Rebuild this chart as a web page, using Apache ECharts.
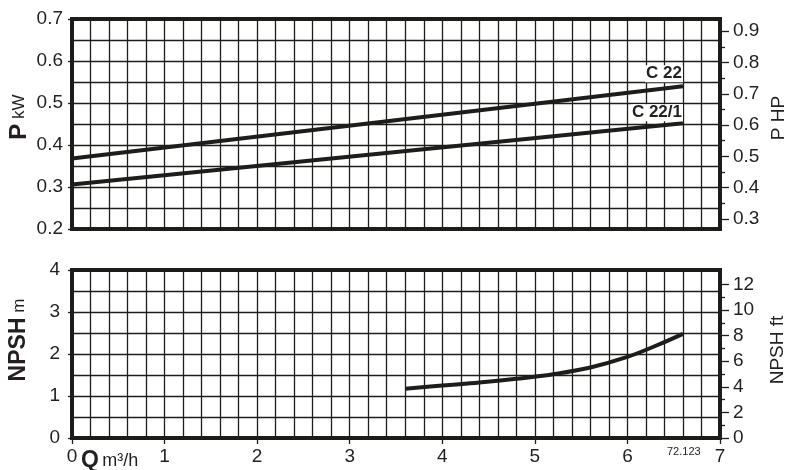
<!DOCTYPE html>
<html>
<head>
<meta charset="utf-8">
<script src="https://cdn.jsdelivr.net/npm/echarts@6/dist/echarts.min.js"></script>
<style>html,body{margin:0;padding:0;background:#fff;}#c{width:791px;height:470px;}</style>
</head>
<body>
<div id="c"></div>
<script>
// ---- data ----
const c22Q = [0, 6.6];
const c22P = [0.368, 0.540];
const c221Q = [0, 6.6];
const c221P = [0.306, 0.452];
const npshQ = [3.6, 4.0, 4.4, 4.8, 5.2, 5.6, 6.0, 6.3, 6.6];
const npshM = [1.17, 1.25, 1.32, 1.41, 1.52, 1.68, 1.93, 2.19, 2.48];
const hpLabels = [0.3, 0.4, 0.5, 0.6, 0.7, 0.8, 0.9];
const hpMinor = [0.35, 0.45, 0.55, 0.65, 0.75, 0.85];
const ftLabels = [0, 2, 4, 6, 8, 10, 12];
const ftMinor = [1, 3, 5, 7, 9, 11];
const KW_TO_HP = 1.34102;
const M_TO_FT = 3.28084;

const INK = '#1d1d1b';
const TXT = '#231f20';
const FONT = '"Liberation Sans", Arial, Helvetica, sans-serif';

function withEndLabel(qs, vs, text, dist) {
  return qs.map((q, i) => {
    const item = { value: [q, vs[i]] };
    if (i === qs.length - 1) {
      item.label = {
        show: true, formatter: text, position: 'top', align: 'right',
        distance: dist, color: TXT, fontFamily: FONT, fontWeight: 'bold', fontSize: 17,
        backgroundColor: '#fff', padding: [0, 1, 0, 1]
      };
    }
    return item;
  });
}

const gridLine = { show: true, lineStyle: { color: INK, width: 1.3 } };

function xAx(grid, showLabels) {
  return {
    type: 'value', gridIndex: grid, min: 0, max: 7, interval: 1,
    axisLine: { show: false },
    axisTick: { show: showLabels, length: 6, lineStyle: { color: INK, width: 1.3 } },
    axisLabel: { show: showLabels, color: TXT, fontFamily: FONT, fontSize: 19, margin: 9 },
    splitLine: gridLine,
    minorTick: { show: false, splitNumber: 5 },
    minorSplitLine: gridLine
  };
}

const option = {
  animation: false,
  backgroundColor: '#fff',
  grid: [
    { left: 72, top: 19, width: 648, height: 210, show: true, borderWidth: 4, borderColor: INK, backgroundColor: 'transparent' },
    { left: 72, top: 270, width: 648, height: 168, show: true, borderWidth: 4, borderColor: INK, backgroundColor: 'transparent' }
  ],
  xAxis: [xAx(0, false), xAx(1, true)],
  yAxis: [
    { // 0: kW
      type: 'value', gridIndex: 0, position: 'left', min: 0.2, max: 0.7, interval: 0.1,
      axisLine: { show: false },
      axisTick: { show: true, length: 4, lineStyle: { color: INK, width: 1.3 } },
      axisLabel: { color: TXT, fontFamily: FONT, fontSize: 19, margin: 9, formatter: v => v.toFixed(1) },
      splitLine: gridLine, minorTick: { show: false, splitNumber: 2 }, minorSplitLine: gridLine
    },
    { // 1: HP major
      type: 'value', gridIndex: 0, position: 'right', min: 0.2 * KW_TO_HP, max: 0.7 * KW_TO_HP,
      axisLine: { show: false }, splitLine: { show: false },
      axisTick: { show: true, length: 9, customValues: hpLabels, lineStyle: { color: INK, width: 1.3 } },
      axisLabel: { color: TXT, fontFamily: FONT, fontSize: 19, margin: 13, customValues: hpLabels, formatter: v => v.toFixed(1) }
    },
    { // 2: HP minor
      type: 'value', gridIndex: 0, position: 'right', min: 0.2 * KW_TO_HP, max: 0.7 * KW_TO_HP,
      axisLine: { show: false }, splitLine: { show: false },
      axisTick: { show: true, length: 5, customValues: hpMinor, lineStyle: { color: INK, width: 1.3 } },
      axisLabel: { show: false }
    },
    { // 3: m
      type: 'value', gridIndex: 1, position: 'left', min: 0, max: 4, interval: 1,
      axisLine: { show: false },
      axisTick: { show: true, length: 4, lineStyle: { color: INK, width: 1.3 } },
      axisLabel: { color: TXT, fontFamily: FONT, fontSize: 19, margin: 12 },
      splitLine: gridLine, minorTick: { show: false, splitNumber: 2 }, minorSplitLine: gridLine
    },
    { // 4: ft major
      type: 'value', gridIndex: 1, position: 'right', min: 0, max: 4 * M_TO_FT,
      axisLine: { show: false }, splitLine: { show: false },
      axisTick: { show: true, length: 9, customValues: ftLabels, lineStyle: { color: INK, width: 1.3 } },
      axisLabel: { color: TXT, fontFamily: FONT, fontSize: 19, margin: 13, customValues: ftLabels }
    },
    { // 5: ft minor
      type: 'value', gridIndex: 1, position: 'right', min: 0, max: 4 * M_TO_FT,
      axisLine: { show: false }, splitLine: { show: false },
      axisTick: { show: true, length: 5, customValues: ftMinor, lineStyle: { color: INK, width: 1.3 } },
      axisLabel: { show: false }
    }
  ],
  series: [
    { name: 'C 22', type: 'line', xAxisIndex: 0, yAxisIndex: 0, symbol: 'circle', symbolSize: 0, showSymbol: true,
      lineStyle: { color: INK, width: 4 }, itemStyle: { color: INK }, data: withEndLabel(c22Q, c22P, 'C 22', 4), z: 5 },
    { name: 'C 22/1', type: 'line', xAxisIndex: 0, yAxisIndex: 0, symbol: 'circle', symbolSize: 0, showSymbol: true,
      lineStyle: { color: INK, width: 4 }, itemStyle: { color: INK }, data: withEndLabel(c221Q, c221P, 'C 22/1', 2), z: 5 },
    { name: 'NPSH', type: 'line', xAxisIndex: 1, yAxisIndex: 3, symbol: 'none', smooth: 0.4,
      lineStyle: { color: INK, width: 4 }, data: npshQ.map((q, i) => [q, npshM[i]]), z: 5 }
  ],
  graphic: [
    { type: 'text', x: 19, y: 117, rotation: Math.PI / 2,
      style: { text: '{b|P}{s| kW}', textAlign: 'center', textVerticalAlign: 'middle', fill: TXT,
        rich: { b: { fontFamily: FONT, fontWeight: 'bold', fontSize: 24, fill: TXT }, s: { fontFamily: FONT, fontSize: 17, fill: TXT } } } },
    { type: 'text', x: 779, y: 118, rotation: Math.PI / 2,
      style: { text: 'P HP', textAlign: 'center', textVerticalAlign: 'middle', fill: TXT, fontFamily: FONT, fontSize: 19 } },
    { type: 'text', x: 19, y: 340, rotation: Math.PI / 2,
      style: { text: '{b|NPSH}{s| m}', textAlign: 'center', textVerticalAlign: 'middle', fill: TXT,
        rich: { b: { fontFamily: FONT, fontWeight: 'bold', fontSize: 23, fill: TXT }, s: { fontFamily: FONT, fontSize: 17, fill: TXT } } } },
    { type: 'text', x: 778, y: 350, rotation: Math.PI / 2,
      style: { text: 'NPSH ft', textAlign: 'center', textVerticalAlign: 'middle', fill: TXT, fontFamily: FONT, fontSize: 19 } },
    { type: 'text', x: 81, y: 461,
      style: { text: '{b|Q} {s|m³/h}', textAlign: 'left', textVerticalAlign: 'middle', fill: TXT,
        rich: { b: { fontFamily: FONT, fontWeight: 'bold', fontSize: 23, fill: TXT }, s: { fontFamily: FONT, fontSize: 18, fill: TXT } } } },
    { type: 'text', x: 667, y: 452,
      style: { text: '72.123', textAlign: 'left', textVerticalAlign: 'middle', fill: TXT, fontFamily: FONT, fontSize: 11 } }
  ]
};

const chart = echarts.init(document.getElementById('c'), null, { renderer: 'canvas' });
chart.setOption(option);
</script>
</body>
</html>
